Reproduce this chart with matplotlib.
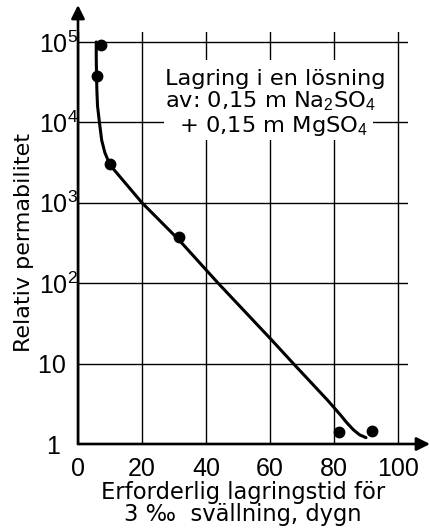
import matplotlib
matplotlib.use("Agg")
import matplotlib.pyplot as plt
from matplotlib.patches import Rectangle

plt.rcParams['font.family'] = ['Liberation Sans', 'DejaVu Sans']
plt.rcParams['mathtext.fontset'] = 'custom'
plt.rcParams['mathtext.rm'] = 'Liberation Sans'
plt.rcParams['mathtext.it'] = 'Liberation Sans'

# Data
point_days = [7.1, 5.8, 10.0, 31.5, 81.6, 91.8]
point_perm = [9.3e4, 3.8e4, 3.0e3, 380, 1.4, 1.45]

curve_days = [5.7, 5.7, 5.8, 5.9, 6.1, 6.7, 7.4, 8.4, 10.0, 20.0,
              31.5, 43.8, 60.7, 67.3, 78.0, 80.0, 82.0, 84.0, 86.0, 88.0, 90.0]
curve_perm = [1.0e5, 6.3e4, 3.8e4, 2.5e4, 1.6e4, 1.0e4, 6.0e3, 4.2e3, 2.95e3, 1.0e3,
              347, 100, 19.3, 10, 3.5, 2.84, 2.30, 1.84, 1.51, 1.30, 1.20]

x_ticks = [0, 20, 40, 60, 80, 100]
x_ticklabels = ['0', '20', '40', '60', '80', '100']
y_ticks = [1, 10, 1e2, 1e3, 1e4, 1e5]
y_ticklabels = ['1\u2002\u2009', '10\u2002', r'10$^2$', r'10$^3$', r'10$^4$', r'10$^5$']

box_lines = ['Lagring i en lösning', 'av: 0,15 m Na$_2$SO$_4$', '  + 0,15 m MgSO$_4$']

W, H = 430, 531
fig = plt.figure(figsize=(W / 100, H / 100), dpi=100)
ax = fig.add_axes([78 / W, 87 / H, 329.6 / W, 412 / H])
ax.set_yscale('log')
ax.set_xlim(0, 103)
ax.set_ylim(1, 10 ** 5.124)

ax.set_xticks(x_ticks)
ax.set_xticklabels(x_ticklabels, fontsize=18)
ax.set_yticks(y_ticks)
ax.set_yticklabels(y_ticklabels, fontsize=18)
ax.minorticks_off()
ax.tick_params(length=0)
ax.tick_params(axis='y', pad=0)
ax.tick_params(axis='x', pad=9)

ax.grid(True, color='k', lw=1.0)
ax.set_axisbelow(True)
for s in ax.spines.values():
    s.set_visible(False)

# axis arrows
for tip in [(0, 1.0655), (1.068, 0)]:
    ax.annotate('', xy=tip, xytext=(0, 0), xycoords='axes fraction',
                arrowprops=dict(arrowstyle='-|>', lw=1.9, color='k', shrinkA=0, shrinkB=0,
                                mutation_scale=20), annotation_clip=False, zorder=6)

ax.plot(curve_days, curve_perm, color='k', lw=2.2, solid_capstyle='round',
        solid_joinstyle='round', zorder=3)
ax.plot(point_days, point_perm, 'o', color='k', ms=7.5, zorder=4)

# white area behind the note
ax.add_patch(Rectangle((27.0, 10 ** 3.78), 92.2 - 27.0, 10 ** 4.776 - 10 ** 3.78,
                       facecolor='white', edgecolor='none', zorder=2))
note_font = ['DejaVu Sans']
ax.text(27.2, 10 ** 4.67, '\n'.join(box_lines), fontsize=16.2, family=note_font,
        ha='left', va='top', linespacing=1.05, zorder=5)

ax.set_ylabel('Relativ permabilitet', fontsize=16.0, family=note_font)
ax.yaxis.set_label_coords(-0.1335, 0.489)
ax.set_xlabel('Erforderlig lagringstid för\n3 ‰  svällning, dygn', fontsize=16.3,
              family=note_font, labelpad=0, linespacing=1.0)

fig.savefig('out.png', dpi=100)
